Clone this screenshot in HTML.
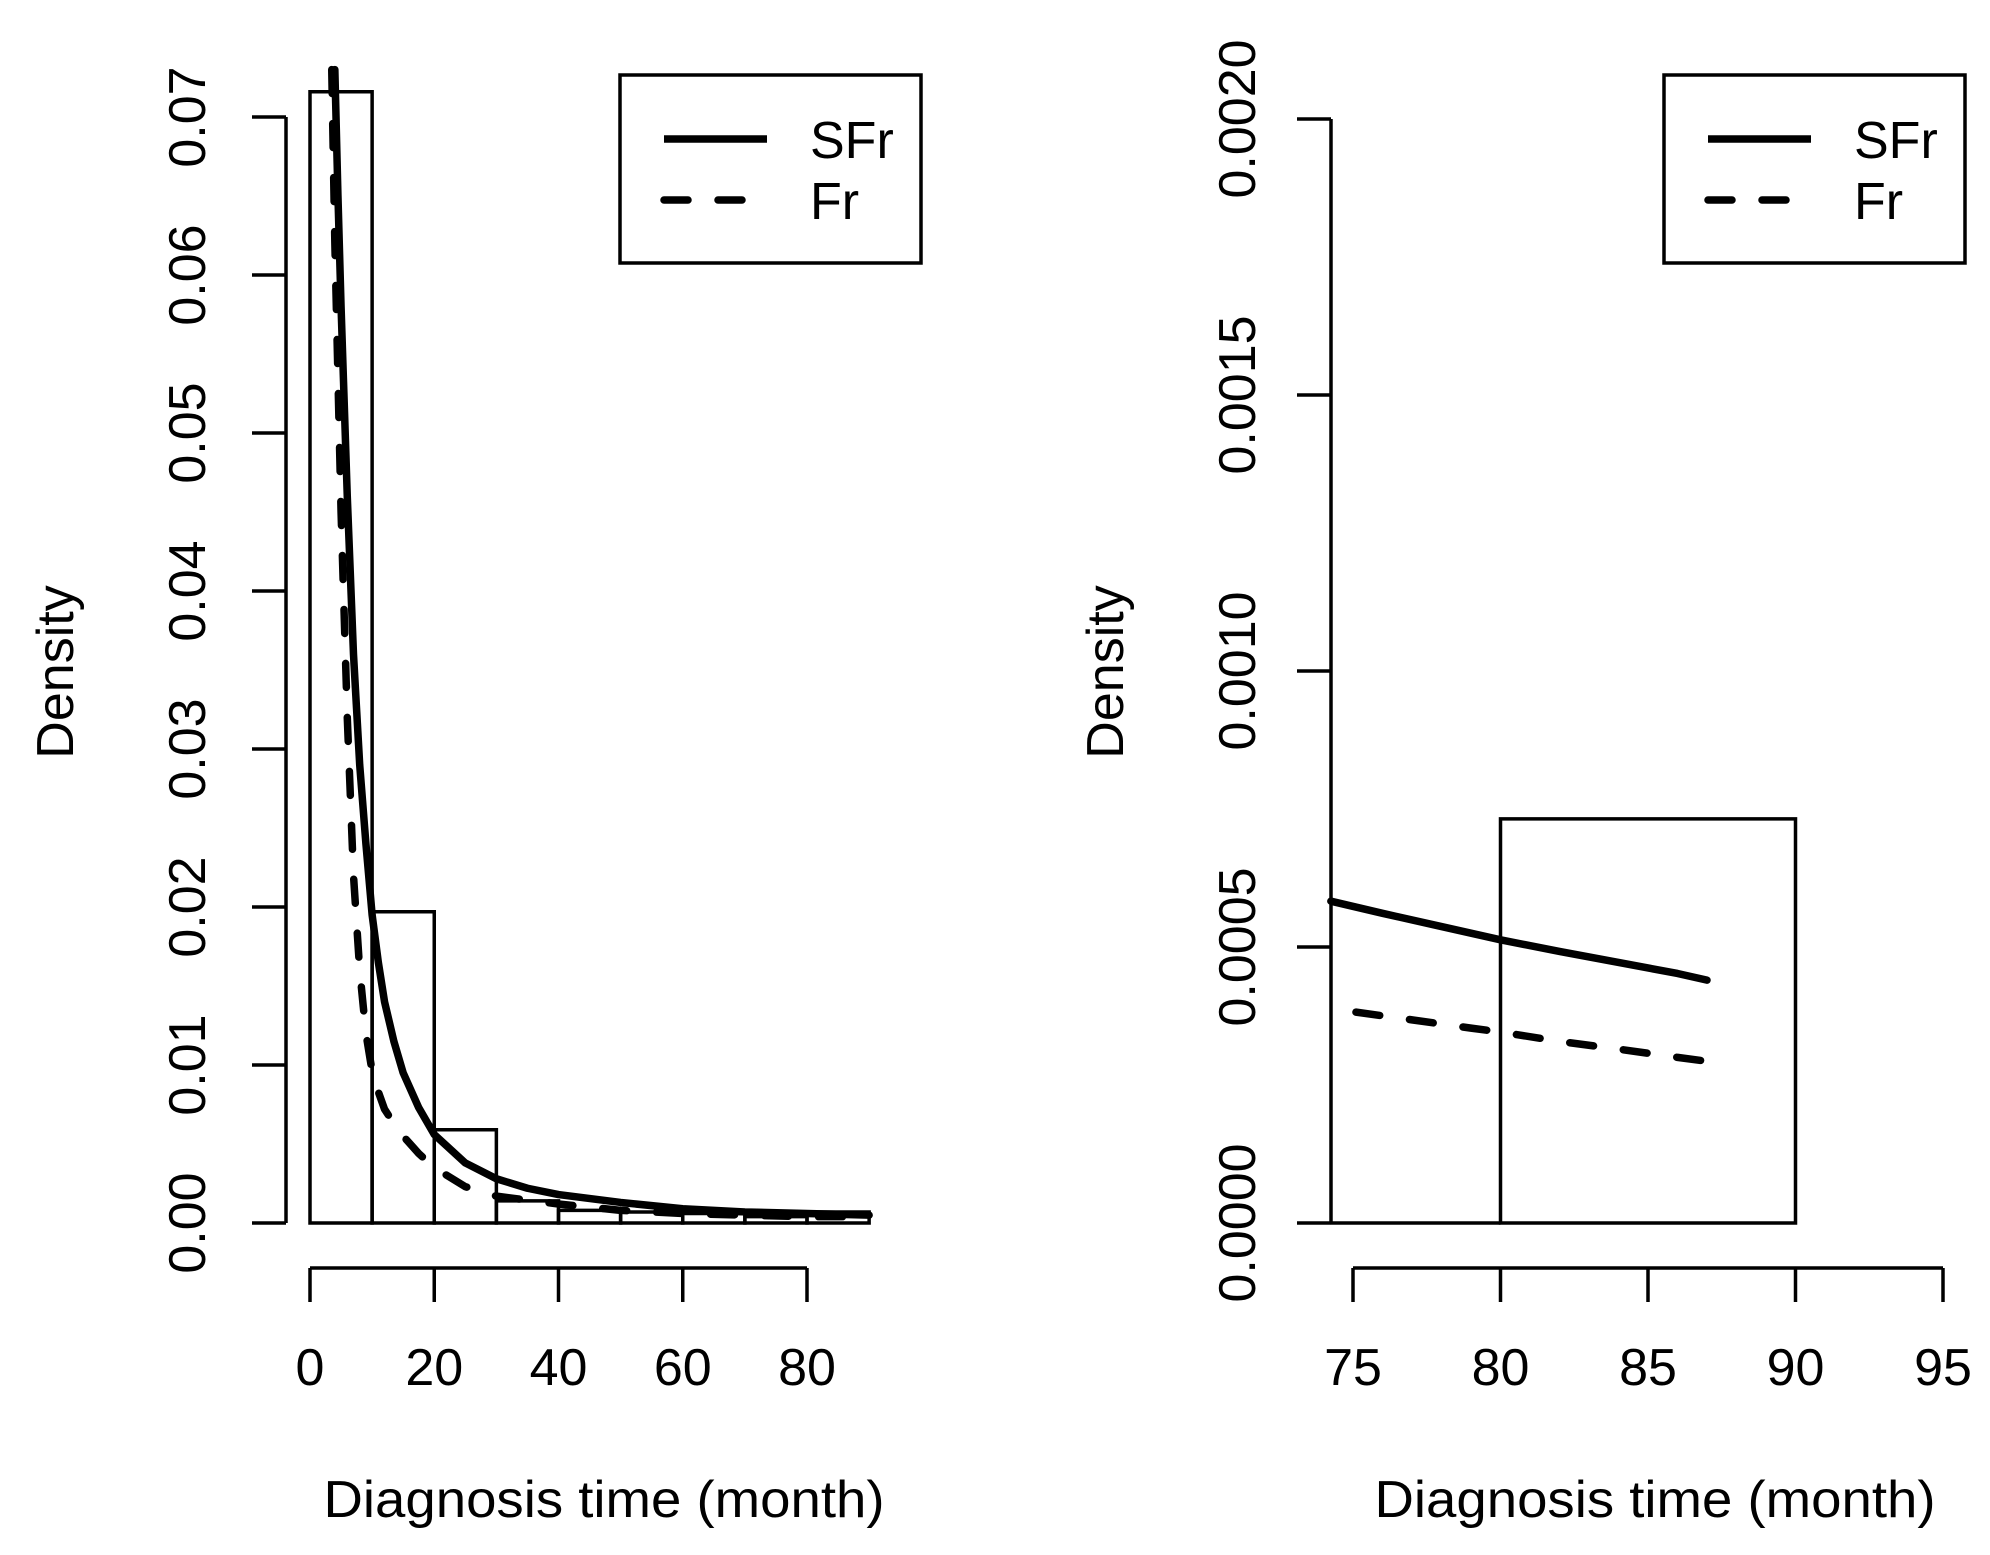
<!DOCTYPE html>
<html><head><meta charset="utf-8"><style>
html,body{margin:0;padding:0;background:#fff;}
svg{display:block;font-family:"Liberation Sans",sans-serif;}
</style></head><body>
<svg id="c" width="1990" height="1555" viewBox="0 0 1990 1555"></svg>
<script>
const binEdgesL=[0,10,20,30,40,50,60,70,80,90];
const binDensL=[0.0716,0.0197,0.0059,0.0014,0.0008,0.0007,0.0006,0.0004,0.0007];
const sfrX=[4,4.5,5,6,7,8,9,10,11,12,13.5,15,17.5,20,25,30,35,40,50,60,70,80,90];
const sfrY=[0.073,0.065,0.058,0.046,0.036,0.029,0.024,0.0195,0.0165,0.014,0.0115,0.0095,0.0073,0.0056,0.0038,0.0028,0.0022,0.0018,0.0013,0.0009,0.0007,0.0006,0.0005];
const frX=[3.5,4,5,6,7,8,9,10,11,12,13.5,15,17.5,20,25,30,40,50,60,70,80,90];
const frY=[0.073,0.062,0.045,0.032,0.022,0.016,0.012,0.0096,0.0083,0.0072,0.0063,0.0055,0.0044,0.0035,0.0023,0.0017,0.0012,0.0008,0.0006,0.0005,0.0004,0.0004];
const xTicksL=[0,20,40,60,80];
const yTicksL=[0,0.01,0.02,0.03,0.04,0.05,0.06,0.07];
const yLabelsL=["0.00","0.01","0.02","0.03","0.04","0.05","0.06","0.07"];
const binEdgesR=[70,80,90];
const binDensR=[0,0.000732];
const sfrXR=[74.25,76,78,80,82,84,86,87];
const sfrYR=[0.000583,0.000561,0.000537,0.000513,0.000492,0.000472,0.000452,0.00044];
const frXR=[75.1,77,79,80,82,84,86,87];
const frYR=[0.000382,0.000368,0.000353,0.000346,0.000329,0.000315,0.000300,0.000293];
const xTicksR=[75,80,85,90,95];
const yTicksR=[0,0.0005,0.001,0.0015,0.002];
const yLabelsR=["0.0000","0.0005","0.0010","0.0015","0.0020"];

const NS="http://www.w3.org/2000/svg";
const svg=document.getElementById('c');
function mk(t,a,p){const e=document.createElementNS(NS,t);for(const k in a)e.setAttribute(k,a[k]);(p||svg).appendChild(e);return e;}

const xL=v=>310+v*6.2125;
const yL=v=>1223-v*15800;
const xR=v=>1353+(v-75)*29.5;
const yR=v=>1223-v*552000;

function panel(o){
  const g=mk('g',{});
  
  
  for(let i=0;i<o.dens.length;i++){
    let x0=Math.max(o.edges[i],o.xmin), x1=o.edges[i+1];
    if(x1<=x0)continue;
    const pts=[[o.x(x0),o.y(0)],[o.x(x0),o.y(o.dens[i])],[o.x(x1),o.y(o.dens[i])],[o.x(x1),o.y(0)]];
    const r=mk('polygon',{points:pts.map(p=>p.join(',')).join(' '),fill:'none',stroke:'#000','stroke-width':3.5},g);
    
    
  }
  const ya=mk('g',{},g);
  
  
  const ax=o.yAxisX;
  mk('line',{x1:ax,x2:ax,y1:o.y(o.yt[0]),y2:o.y(o.yt[o.yt.length-1]),stroke:'#000','stroke-width':3.5},ya);
  o.yt.forEach((v,i)=>{
    mk('line',{x1:ax-34,x2:ax,y1:o.y(v),y2:o.y(v),stroke:'#000','stroke-width':3.5},ya);
    const t=mk('text',{x:0,y:0,transform:`translate(${o.labX},${o.y(v)}) rotate(-90)`,'text-anchor':'middle','font-size':52,fill:'#000'},ya);
    
    
    t.textContent=o.yl[i];
  });
  const xa=mk('g',{},g);
  
  
  mk('line',{x1:o.x(o.xt[0]),x2:o.x(o.xt[o.xt.length-1]),y1:1268,y2:1268,stroke:'#000','stroke-width':3.5},xa);
  o.xt.forEach(v=>{
    mk('line',{x1:o.x(v),x2:o.x(v),y1:1268,y2:1302,stroke:'#000','stroke-width':3.5},xa);
    const t=mk('text',{x:o.x(v),y:1385,'text-anchor':'middle','font-size':52,fill:'#000'},xa);
    
    
    t.textContent=String(v);
  });
  const xt=mk('text',{x:o.titleX,y:1517,'text-anchor':'middle','font-size':52,fill:'#000',textLength:561,lengthAdjust:'spacingAndGlyphs'},g);
  
  
  xt.textContent='Diagnosis time (month)';
  const yt=mk('text',{x:0,y:0,transform:`translate(${o.densX},672) rotate(-90)`,'text-anchor':'middle','font-size':52,fill:'#000'},g);
  
  
  yt.textContent='Density';
  const p1=mk('polyline',{points:o.sx.map((v,i)=>o.x(v)+','+o.y(o.sy[i])).join(' '),fill:'none',stroke:'#000','stroke-width':7.5,'stroke-linejoin':'round','stroke-linecap':'round'},g);
  
  
  const p2=mk('polyline',{points:o.fx.map((v,i)=>o.x(v)+','+o.y(o.fy[i])).join(' '),fill:'none',stroke:'#000','stroke-width':7.5,'stroke-dasharray':'24 30','stroke-linejoin':'round','stroke-linecap':'round'},g);
  
  
  const lg=mk('g',{},g);
  
  
  const L=o.legX;
  mk('rect',{x:L,y:75,width:301,height:188,fill:'#fff',stroke:'#000','stroke-width':3.5},lg);
  mk('line',{x1:L+44,x2:L+147,y1:139,y2:139,stroke:'#000','stroke-width':7.5},lg);
  mk('line',{x1:L+44,x2:L+147,y1:200,y2:200,stroke:'#000','stroke-width':7.5,'stroke-dasharray':'24 30','stroke-linecap':'round'},lg);
  const t1=mk('text',{x:L+190,y:158,'font-size':52,fill:'#000'},lg);
  
  
  t1.textContent='SFr';
  const t2=mk('text',{x:L+190,y:219,'font-size':52,fill:'#000'},lg);
  
  
  t2.textContent='Fr';
}
panel({name:'left-panel',x:xL,y:yL,edges:binEdgesL,dens:binDensL,xmin:0,yAxisX:286,yt:yTicksL,yl:yLabelsL,labX:205,xt:xTicksL,titleX:604,densX:73,sx:sfrX,sy:sfrY,fx:frX,fy:frY,legX:620});
panel({name:'right-panel',x:xR,y:yR,edges:binEdgesR,dens:binDensR,xmin:74.25,yAxisX:1331,yt:yTicksR,yl:yLabelsR,labX:1255,xt:xTicksR,titleX:1655,densX:1123,sx:sfrXR,sy:sfrYR,fx:frXR,fy:frYR,legX:1664});
</script>
</body></html>
